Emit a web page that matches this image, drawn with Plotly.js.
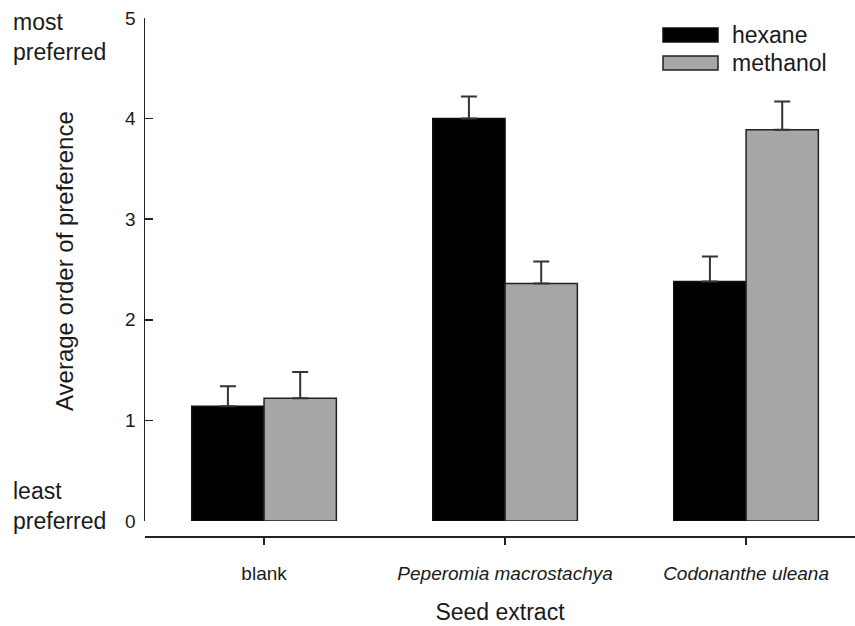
<!DOCTYPE html>
<html>
<head>
<meta charset="utf-8">
<script src="https://cdn.plot.ly/plotly-3.0.1.min.js"></script>
<style>html,body{margin:0;padding:0;background:#fff;}#chart{width:855px;height:626px;}</style>
</head>
<body>
<div id="chart"></div>
<script>
var categories = ["blank", "<i>Peperomia macrostachya</i>", "<i>Codonanthe uleana</i>"];
var seriesNames = ["hexane", "methanol"];
var hexaneValues = [1.14, 4.00, 2.38];
var hexaneErrors = [0.20, 0.22, 0.25];
var methanolValues = [1.22, 2.36, 3.89];
var methanolErrors = [0.26, 0.22, 0.28];
var yTickValues = [0, 1, 2, 3, 4, 5];
var yTickLabels = ["0", "1", "2", "3", "4", "5"];

var FONT = "Liberation Sans, Arial, sans-serif";
var TXT = "#1a1a1a";

var traces = [
  {
    type: "bar", name: seriesNames[0], x: categories, y: hexaneValues,
    marker: {color: "#000000", line: {color: "#111111", width: 1.5}},
    error_y: {type: "data", array: hexaneErrors, symmetric: false, arrayminus: [0,0,0], color: "#333333", thickness: 2, width: 8},
    showlegend: false
  },
  {
    type: "bar", name: seriesNames[1], x: categories, y: methanolValues,
    marker: {color: "#a6a6a6", line: {color: "#222222", width: 1.5}},
    error_y: {type: "data", array: methanolErrors, symmetric: false, arrayminus: [0,0,0], color: "#333333", thickness: 2, width: 8},
    showlegend: false
  }
];

function py(pix) { return 1 - (pix - 18) / 518; }
function px(pix) { return (pix - 145) / 710; }

var layout = {
  width: 855, height: 626,
  margin: {l: 145, r: 0, t: 18, b: 90},
  paper_bgcolor: "#fff", plot_bgcolor: "#fff",
  barmode: "group", bargap: 0.4, bargroupgap: 0,
  font: {family: FONT, color: TXT},
  xaxis: {
    range: [-0.494, 2.452],
    anchor: "free", position: 0,
    showline: true, linecolor: "#222", linewidth: 1.5,
    ticks: "outside", ticklen: 7, tickwidth: 1.5, tickcolor: "#222",
    tickfont: {family: FONT, size: 19, color: TXT},
    ticklabelstandoff: 13,
    showgrid: false, zeroline: false,
    title: {text: "Seed extract", font: {family: FONT, size: 23, color: TXT}, standoff: 20}
  },
  yaxis: {
    domain: [0.029, 1],
    range: [0, 5],
    tickvals: yTickValues, ticktext: yTickLabels,
    showline: true, linecolor: "#222", linewidth: 1.5,
    ticks: "inside", ticklen: 8, tickwidth: 1.5, tickcolor: "#222",
    tickfont: {family: FONT, size: 19, color: TXT},
    ticklabelstandoff: 4,
    showgrid: false, zeroline: false
  },
  shapes: [
    {type: "rect", xref: "paper", yref: "paper", x0: px(663), x1: px(718), y0: py(42), y1: py(28), fillcolor: "#000", line: {color: "#111", width: 1.5}},
    {type: "rect", xref: "paper", yref: "paper", x0: px(663), x1: px(718), y0: py(70), y1: py(56), fillcolor: "#a6a6a6", line: {color: "#222", width: 1.5}}
  ],
  annotations: [
    {xref: "paper", yref: "paper", x: px(64), y: py(261), xanchor: "center", yanchor: "middle", textangle: -90, text: "Average order of preference", showarrow: false, font: {family: FONT, size: 24, color: TXT}},
    {xref: "paper", yref: "paper", x: px(730), y: py(35), xanchor: "left", yanchor: "middle", text: seriesNames[0], showarrow: false, font: {family: FONT, size: 23, color: TXT}},
    {xref: "paper", yref: "paper", x: px(730), y: py(63), xanchor: "left", yanchor: "middle", text: seriesNames[1], showarrow: false, font: {family: FONT, size: 23, color: TXT}},
    {xref: "paper", yref: "paper", x: px(11), y: py(37), xanchor: "left", yanchor: "middle", align: "left", text: "most<br>preferred", showarrow: false, font: {family: FONT, size: 23, color: TXT}},
    {xref: "paper", yref: "paper", x: px(11), y: py(506), xanchor: "left", yanchor: "middle", align: "left", text: "least<br>preferred", showarrow: false, font: {family: FONT, size: 23, color: TXT}}
  ]
};

Plotly.newPlot("chart", traces, layout, {displayModeBar: false, staticPlot: true});
</script>
</body>
</html>
